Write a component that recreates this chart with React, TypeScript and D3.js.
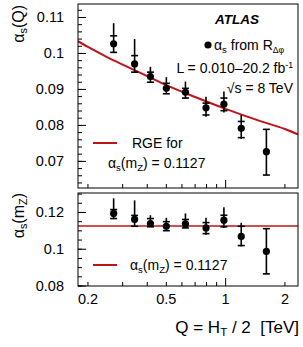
import React from "react";
import * as d3 from "d3";

// ---- data ----
const qValues = [0.27, 0.345, 0.415, 0.5, 0.625, 0.795, 0.98, 1.2, 1.61];

const alphaQ = [0.1027, 0.0971, 0.0936, 0.0903, 0.0892, 0.0849, 0.0859, 0.0792, 0.0727];
const alphaQTotHi = [0.1084, 0.104, 0.0963, 0.0934, 0.0922, 0.088, 0.0894, 0.0829, 0.0789];
const alphaQTotLo = [0.1003, 0.0948, 0.092, 0.0888, 0.0874, 0.0824, 0.0836, 0.0762, 0.0662];
const alphaQExpHi = [0.1049, 0.0994, 0.0948, 0.0917, 0.0903, 0.0862, 0.0876, 0.0811, 0.0789];
const alphaQExpLo = [0.1003, 0.0948, 0.092, 0.0888, 0.0876, 0.0829, 0.0841, 0.0766, 0.0662];

const alphaMz = [0.1195, 0.1162, 0.114, 0.1125, 0.1138, 0.1116, 0.1158, 0.107, 0.0988];
const alphaMzTotHi = [0.1277, 0.1266, 0.1185, 0.1171, 0.1195, 0.1171, 0.1229, 0.1144, 0.1112];
const alphaMzTotLo = [0.1167, 0.1125, 0.1122, 0.1101, 0.1116, 0.1079, 0.1116, 0.1015, 0.0866];
const alphaMzExpHi = [0.1216, 0.1184, 0.1167, 0.115, 0.1162, 0.1145, 0.1185, 0.1125, 0.1112];
const alphaMzExpLo = [0.1167, 0.1125, 0.1122, 0.1101, 0.1116, 0.1085, 0.1122, 0.102, 0.0866];

const rgeQ = [0.178, 0.2, 0.25, 0.3, 0.4, 0.5, 0.7, 1.0, 1.5, 2.0, 2.33];
const rgeAlpha = [0.1034, 0.1018, 0.099, 0.0969, 0.0937, 0.0912, 0.0879, 0.0846, 0.0812, 0.079, 0.0775];

const alphaMzFit = 0.1127;

const xTickLabels = [0.2, 0.5, 1, 2];
const xMinorTicks = [0.2, 0.3, 0.4, 0.5, 0.6, 0.7, 0.8, 0.9, 2];
const xMajorTicks = [1];
const topYLabels = [0.07, 0.08, 0.09, 0.1, 0.11];
const botYLabels = [0.08, 0.1, 0.12];

// ---- layout ----
const W = 303;
const H = 347;
const L = 78;
const R = 298;
const TOP0 = 4;
const TOP1 = 188;
const BOT0 = 193;
const BOT1 = 286;
const FONT = "'Liberation Sans', Arial, Helvetica, sans-serif";
const RED = "#be1418";

const x = d3.scaleLog().domain([0.178, 2.33]).range([L, R]);
const yTop = d3.scaleLinear().domain([0.0626, 0.11375]).range([TOP1, TOP0]);
const yBot = d3.scaleLinear().domain([0.08, 0.1306]).range([BOT1, BOT0]);

function Panel({ y, y0, y1, vals, totHi, totLo, expHi, expLo, minorStep, labels }: any) {
  const [d0, d1] = y.domain();
  const minors: number[] = [];
  const start = Math.ceil(d0 / minorStep - 1e-6);
  for (let k = start; k * minorStep <= d1 + 1e-9; k++) minors.push(k * minorStep);
  return (
    <g>
      {minors.map((v, i) => (
        <line key={"ym" + i} x1={L} x2={L + 4} y1={y(v)} y2={y(v)} stroke="#000" strokeWidth={1} />
      ))}
      {labels.map((v: number, i: number) => (
        <g key={"yl" + i}>
          <line x1={L} x2={L + 8} y1={y(v)} y2={y(v)} stroke="#000" strokeWidth={1} />
          <text x={64} y={y(v) + 5} textAnchor="end" fontSize={14.5} fontFamily={FONT}>
            {String(v)}
          </text>
        </g>
      ))}
      {xMinorTicks.map((v, i) => (
        <line key={"xm" + i} x1={x(v)} x2={x(v)} y1={y1} y2={y1 - 4} stroke="#000" strokeWidth={1} />
      ))}
      {xMajorTicks.map((v, i) => (
        <line key={"xM" + i} x1={x(v)} x2={x(v)} y1={y1} y2={y1 - 8} stroke="#000" strokeWidth={1} />
      ))}
      {qValues.map((q, i) => {
        const cx = x(q);
        return (
          <g key={"p" + i}>
            <line x1={cx} x2={cx} y1={y(totHi[i])} y2={y(totLo[i])} stroke="#000" strokeWidth={1.6} />
            <line x1={cx - 3.5} x2={cx + 3.5} y1={y(expHi[i])} y2={y(expHi[i])} stroke="#000" strokeWidth={1.6} />
            <line x1={cx - 3.5} x2={cx + 3.5} y1={y(expLo[i])} y2={y(expLo[i])} stroke="#000" strokeWidth={1.6} />
            <circle cx={cx} cy={y(vals[i])} r={3.6} fill="#000" />
          </g>
        );
      })}
      <rect x={L} y={y0} width={R - L} height={y1 - y0} fill="none" stroke="#000" strokeWidth={1} />
    </g>
  );
}

export default function App() {
  const rgeLine = d3
    .line<number>()
    .x((_, i) => x(rgeQ[i]))
    .y((v) => yTop(v))
    .curve(d3.curveMonotoneX)(rgeAlpha) as string;

  return (
    <svg
      width={W}
      height={H}
      viewBox={`0 0 ${W} ${H}`}
      style={{ position: "absolute", left: 0, top: 0, background: "#fff" }}
      fontFamily={FONT}
    >
      <rect x={0} y={0} width={W} height={H} fill="#fff" />
      <defs>
        <clipPath id="clipTop">
          <rect x={L} y={TOP0} width={R - L} height={TOP1 - TOP0} />
        </clipPath>
      </defs>

      <path d={rgeLine} fill="none" stroke={RED} strokeWidth={2} clipPath="url(#clipTop)" />
      <line x1={L} x2={R} y1={yBot(alphaMzFit)} y2={yBot(alphaMzFit)} stroke={RED} strokeWidth={1.5} />

      <Panel
        y={yTop}
        y0={TOP0}
        y1={TOP1}
        vals={alphaQ}
        totHi={alphaQTotHi}
        totLo={alphaQTotLo}
        expHi={alphaQExpHi}
        expLo={alphaQExpLo}
        minorStep={0.002}
        labels={topYLabels}
      />
      <Panel
        y={yBot}
        y0={BOT0}
        y1={BOT1}
        vals={alphaMz}
        totHi={alphaMzTotHi}
        totLo={alphaMzTotLo}
        expHi={alphaMzExpHi}
        expLo={alphaMzExpLo}
        minorStep={0.005}
        labels={botYLabels}
      />

      {xTickLabels.map((v, i) => (
        <text key={"xl" + i} x={x(v)} y={304} textAnchor="middle" fontSize={14.5}>
          {String(v)}
        </text>
      ))}
      <text x={299} y={333} textAnchor="end" fontSize={17} xmlSpace="preserve">
        <tspan>Q = H</tspan>
        <tspan fontSize="0.68em" dy="0.3em">T</tspan>
        <tspan dy="-0.2em">{" / 2  [TeV]"}</tspan>
      </text>

      <text transform={`translate(24,5) rotate(-90)`} textAnchor="end" fontSize={16}>
        <tspan>α</tspan>
        <tspan fontSize="0.68em" dy="0.3em">s</tspan>
        <tspan dy="-0.2em">(Q)</tspan>
      </text>
      <text transform={`translate(24,193) rotate(-90)`} textAnchor="end" fontSize={16}>
        <tspan>α</tspan>
        <tspan fontSize="0.68em" dy="0.3em">s</tspan>
        <tspan dy="-0.2em">(m</tspan>
        <tspan fontSize="0.68em" dy="0.3em">Z</tspan>
        <tspan dy="-0.2em">)</tspan>
      </text>

      <text x={237} y={24} textAnchor="middle" fontSize={13.5} fontWeight="bold" fontStyle="italic">
        ATLAS
      </text>
      <circle cx={208} cy={45} r={3.6} fill="#000" />
      <text x={214} y={50} fontSize={14}>
        <tspan>α</tspan>
        <tspan fontSize="0.68em" dy="0.3em">s</tspan>
        <tspan dy="-0.2em">{" from R"}</tspan>
        <tspan fontSize="0.62em" dy="0.35em">Δφ</tspan>
      </text>
      <text x={293} y={73} textAnchor="end" fontSize={14}>
        <tspan>L = 0.010–20.2 fb</tspan>
        <tspan fontSize="0.62em" dy="-0.55em">-1</tspan>
      </text>
      <text x={293} y={93} textAnchor="end" fontSize={14}>
        √s = 8 TeV
      </text>

      <line x1={93} x2={117} y1={143} y2={143} stroke={RED} strokeWidth={2} />
      <text x={132} y={148} fontSize={14}>
        RGE for
      </text>
      <text x={108} y={168} fontSize={14}>
        <tspan>α</tspan>
        <tspan fontSize="0.68em" dy="0.3em">s</tspan>
        <tspan dy="-0.2em">(m</tspan>
        <tspan fontSize="0.68em" dy="0.3em">Z</tspan>
        <tspan dy="-0.2em">) = 0.1127</tspan>
      </text>

      <line x1={93} x2={117} y1={265} y2={265} stroke={RED} strokeWidth={2} />
      <text x={130} y={270} fontSize={14}>
        <tspan>α</tspan>
        <tspan fontSize="0.68em" dy="0.3em">s</tspan>
        <tspan dy="-0.2em">(m</tspan>
        <tspan fontSize="0.68em" dy="0.3em">Z</tspan>
        <tspan dy="-0.2em">) = 0.1127</tspan>
      </text>
    </svg>
  );
}
